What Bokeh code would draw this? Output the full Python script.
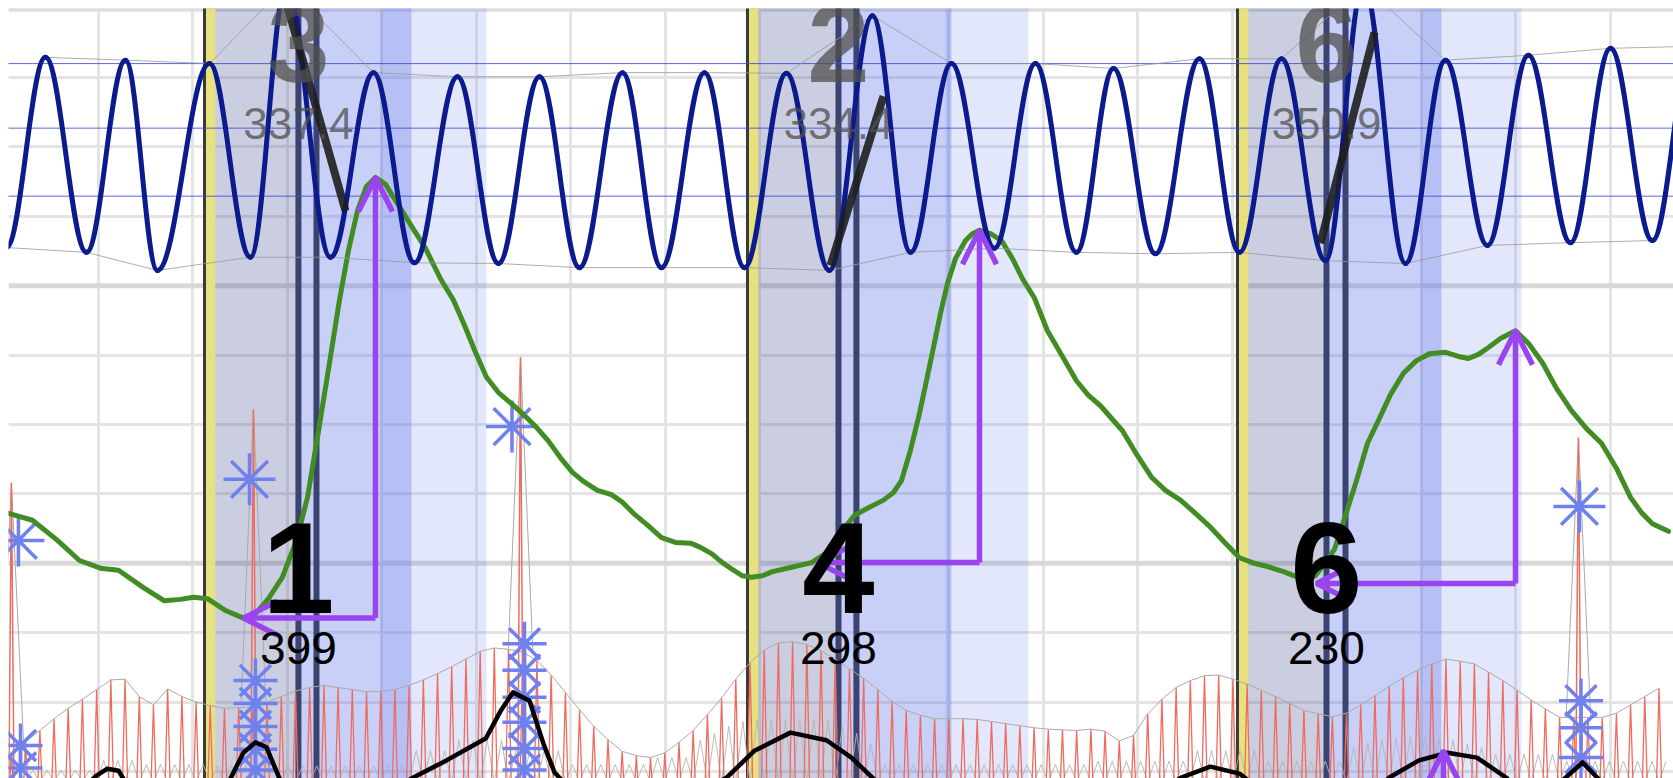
from bokeh.plotting import figure
from bokeh.models import Range1d, FixedTicker, Span, Arrow, OpenHead, ColumnDataSource, LabelSet
from bokeh.core.properties import value
from bokeh.embed import file_html
from bokeh.resources import INLINE

# ---------------- data (time in s, signal in grid units) ----------------
event_onset = [2.122, 7.868, 13.053]
marker_a = [3.116, 8.831, 13.995]
marker_b = [3.307, 9.021, 14.196]
window_end = [4.312, 10.026, 15.212]
late_start = [3.984, 9.963, 14.989]
late_end = [5.106, 10.841, 16.058]

event_number = ["3", "2", "6"]
event_value = ["337.4", "334.4", "350.9"]
response_number = ["1", "4", "6"]
response_value = ["399", "298", "230"]

# blue oscillation: extrema
wave_peak_t = [0.439, 1.286, 2.175, 2.989, 3.910, 4.799, 5.667, 6.545, 7.413, 8.280, 9.190,
               10.026, 10.915, 11.741, 12.651, 13.519, 14.386, 15.254, 16.132, 17.000, 17.868]
wave_peak_v = [10.29, 10.25, 10.20, 11.33, 10.07, 10.01, 10.01, 10.07, 10.07, 10.06, 10.89,
               10.20, 10.20, 10.13, 10.27, 10.27, 11.33, 10.25, 10.32, 10.42, 10.45]
wave_trough_t = [0.026, 0.873, 1.624, 2.608, 3.455, 4.344, 5.233, 6.090, 6.958, 7.836, 8.735,
                 9.593, 10.481, 11.349, 12.185, 13.074, 13.984, 14.831, 15.698, 16.577, 17.444]
wave_trough_v = [7.55, 7.48, 7.22, 7.41, 7.41, 7.33, 7.32, 7.26, 7.26, 7.26, 7.22,
                 7.48, 7.54, 7.48, 7.46, 7.48, 7.36, 7.32, 7.58, 7.62, 7.65]
wave_levels = [10.20, 9.27, 8.29]

# green trace
green_t = [0.048, 0.302, 0.566, 0.799, 1.021, 1.212, 1.476, 1.698, 1.868, 2.005,
           2.153, 2.344, 2.534, 2.672, 2.799, 2.947, 3.095, 3.212, 3.329, 3.444,
           3.550, 3.646, 3.741, 3.836, 3.931, 4.037, 4.143, 4.302, 4.460, 4.619,
           4.757, 4.873, 4.989, 5.106, 5.233, 5.370, 5.508, 5.635, 5.762, 5.889,
           6.016, 6.132, 6.280, 6.429, 6.545, 6.661, 6.810, 6.958, 7.106, 7.265,
           7.370, 7.487, 7.603, 7.720, 7.815, 7.910, 8.026, 8.132, 8.323, 8.545,
           8.693, 8.852, 9.000, 9.148, 9.307, 9.413, 9.497, 9.593, 9.688, 9.762,
           9.836, 9.910, 9.984, 10.069, 10.175, 10.249, 10.323, 10.439, 10.556, 10.672,
           10.778, 10.905, 11.042, 11.201, 11.349, 11.476, 11.603, 11.836, 11.995, 12.143,
           12.291, 12.450, 12.608, 12.767, 12.926, 13.074, 13.233, 13.381, 13.540, 13.688,
           13.772, 13.878, 13.984, 14.079, 14.196, 14.312, 14.429, 14.545, 14.672, 14.810,
           14.947, 15.085, 15.254, 15.392, 15.497, 15.603, 15.709, 15.836, 15.995, 16.132,
           16.280, 16.429, 16.587, 16.746, 16.905, 17.063, 17.212, 17.328, 17.444, 17.614]
green_v = [3.72, 3.62, 3.33, 3.04, 2.93, 2.90, 2.65, 2.46, 2.48, 2.51,
           2.49, 2.32, 2.21, 2.29, 2.49, 2.80, 3.33, 3.95, 4.91, 5.88,
           6.79, 7.51, 8.08, 8.43, 8.56, 8.46, 8.23, 7.88, 7.54, 7.10,
           6.79, 6.43, 6.04, 5.68, 5.46, 5.30, 5.13, 4.96, 4.76, 4.52,
           4.31, 4.18, 4.05, 3.99, 3.88, 3.72, 3.55, 3.37, 3.30, 3.29,
           3.23, 3.14, 3.01, 2.90, 2.82, 2.80, 2.82, 2.88, 2.94, 3.01,
           3.14, 3.44, 3.69, 3.80, 3.91, 4.02, 4.19, 4.63, 5.16, 5.63,
           6.11, 6.60, 7.03, 7.39, 7.65, 7.75, 7.80, 7.75, 7.65, 7.39,
           7.10, 6.82, 6.35, 5.98, 5.63, 5.42, 5.27, 4.91, 4.55, 4.24,
           4.05, 3.91, 3.72, 3.52, 3.29, 3.08, 3.00, 2.95, 2.88, 2.80,
           2.75, 2.82, 3.01, 3.20, 3.69, 4.19, 4.73, 5.06, 5.43, 5.74,
           5.92, 6.02, 6.04, 5.98, 5.95, 6.01, 6.11, 6.24, 6.35, 6.17,
           5.89, 5.52, 5.20, 4.94, 4.73, 4.37, 3.95, 3.73, 3.57, 3.46]

# slope indicators
slope_t0 = [2.968, 8.746, 13.931]
slope_v0 = [11.18, 7.29, 7.61]
slope_t1 = [3.614, 9.307, 14.503]
slope_v1 = [8.08, 9.73, 10.65]

# rise arrows
rise_t = [3.931, 10.323, 15.995]
rise_top = [8.56, 7.80, 6.35]
rise_base = [2.21, 3.01, 2.71]
dip_t = [2.534, 8.608, 13.889]

# red pulse train: peak heights, one every 0.1503 s from 0.079 s
spike_top = [0.28, 0.43, 0.59, 0.76, 0.91, 1.04, 1.18, 1.32, 1.33, 1.08,
             0.96, 1.19, 1.08, 1.00, 0.95, 0.91, 0.92, 0.93, 1.00, 1.08,
             1.16, 1.21, 1.24, 1.21, 1.18, 1.15, 1.15, 1.18, 1.24, 1.32,
             1.41, 1.51, 1.62, 1.73, 1.78, 1.76, 1.72, 1.60, 1.39, 1.14,
             0.89, 0.65, 0.46, 0.29, 0.23, 0.20, 0.27, 0.42, 0.59, 0.82,
             1.06, 1.33, 1.57, 1.75, 1.85, 1.87, 1.83, 1.74, 1.62, 1.48,
             1.34, 1.18, 1.01, 0.88, 0.81, 0.76, 0.76, 0.76, 0.75, 0.72,
             0.69, 0.66, 0.63, 0.61, 0.60, 0.59, 0.61, 0.58, 0.44, 0.52,
             0.83, 1.04, 1.21, 1.31, 1.38, 1.39, 1.33, 1.26, 1.17, 1.08,
             0.98, 0.88, 0.83, 0.79, 0.84, 0.96, 1.09, 1.23, 1.35, 1.46,
             1.55, 1.62, 1.59, 1.55, 1.43, 1.31, 1.17, 1.03, 0.90, 0.78,
             0.78, 0.78, 0.78, 0.84, 0.96, 1.08, 1.20]
# small grey ripple between pulses (height after each pulse)
ripple_top = [0.02, 0.02, 0.02, 0.02, 0.02, 0.02, 0.16, 0.16, 0.16, 0.10,
              0.10, 0.10, 0.10, 0.10, 0.08, 0.08, 0.08, 0.08, 0.08, 0.08,
              0.08, 0.08, 0.08, 0.08, 0.08, 0.08, 0.08, 0.08, 0.30, 0.30,
              0.30, 0.45, 0.45, 0.45, 0.45, 0.30, 0.30, 0.30, 0.30, 0.10,
              0.10, 0.10, 0.10, 0.10, 0.10, 0.20, 0.20, 0.20, 0.45, 0.55,
              0.65, 0.72, 0.75, 0.75, 0.75, 0.75, 0.75, 0.75, 0.65, 0.55,
              0.40, 0.10, 0.10, 0.10, 0.10, 0.10, 0.10, 0.10, 0.10, 0.10,
              0.10, 0.10, 0.10, 0.10, 0.10, 0.10, 0.15, 0.15, 0.15, 0.15,
              0.15, 0.15, 0.15, 0.30, 0.30, 0.30, 0.30, 0.30, 0.15, 0.15,
              0.15, 0.15, 0.15, 0.15, 0.35, 0.40, 0.45, 0.48, 0.50, 0.50,
              0.48, 0.45, 0.40, 0.35, 0.25, 0.25, 0.25, 0.25, 0.25, 0.15,
              0.15, 0.15, 0.15, 0.15, 0.15, 0.15, 0.15]
spike_start, spike_step = 0.079, 0.1503

# artifacts
artifact_t = [0.079, 2.640, 5.466, 16.661]
artifact_top = [4.16, 5.22, 5.97, 4.81]
artifact_base = [0.37, 1.02, 1.74, 0.78]
mark_t = [0.153, 2.598, 5.376, 16.672]
mark_v = [3.33, 4.21, 4.97, 3.82]
stack_t = [0.175, 0.175, 2.661, 2.661, 2.661, 2.661, 2.661,
           5.508, 5.508, 5.508, 5.508, 5.508, 5.508, 16.688, 16.688, 16.688]
stack_v = [0.375, 0.05, 1.31, 0.98, 0.65, 0.32, 0.02,
           1.84, 1.46, 1.07, 0.71, 0.33, 0.02, 1.02, 0.63, 0.20]

# black lower trace
low_t = [0.048, 0.810, 0.979, 1.095, 1.212, 1.339, 2.079, 2.386, 2.534, 2.661,
         2.778, 2.915, 3.138, 3.984, 4.312, 4.683, 5.101, 5.259, 5.386, 5.561,
         5.709, 5.825, 6.101, 7.159, 7.646, 7.942, 8.323, 8.704, 8.968, 9.190,
         9.487, 12.132, 12.450, 12.767, 13.074, 13.296, 14.423, 14.656, 14.974, 15.275,
         15.587, 15.899, 16.116, 16.434, 16.704, 16.862, 17.069, 17.614]
low_v = [-0.42, -0.27, -0.06, 0.04, 0.01, -0.27, -0.56, -0.13, 0.27, 0.42,
         0.35, -0.10, -0.42, -0.42, -0.10, 0.16, 0.48, 0.88, 1.14, 1.02,
         0.40, -0.01, -0.42, -0.42, -0.09, 0.30, 0.56, 0.45, 0.20, -0.09,
         -0.42, -0.42, -0.09, 0.07, -0.03, -0.27, -0.42, -0.09, 0.16, 0.27,
         0.20, -0.09, -0.42, -0.20, 0.13, -0.09, -0.42, -0.42]
cue_t = [15.233]
cue_v = [0.30]

# ---------------- styles ----------------
PURPLE = "#9a44ef"
NAVY = "#0b1a8c"
GREEN = "#428c24"
RED = "#ef6b5f"
AST = "#6f80ef"
FONT = value("Liberation Sans")
TOP, BOT = 12.0, -1.0

p = figure(width=1673, height=778, x_range=Range1d(0.048, 17.667), y_range=Range1d(-0.101, 10.994),
           output_backend="svg", toolbar_location=None,
           min_border_left=8, min_border_top=8, min_border_right=0, min_border_bottom=0)
p.xaxis.visible = False
p.yaxis.visible = False
p.outline_line_color = None
p.border_fill_color = "white"
p.xgrid.ticker = FixedTicker(ticks=list(range(0, 19)))
p.ygrid.ticker = FixedTicker(ticks=list(range(0, 12)))
for g in (p.xgrid, p.ygrid):
    g.grid_line_color = "#e4e4e4"
    g.grid_line_width = 3
for lvl in (3, 7):
    p.add_layout(Span(location=lvl, dimension="width", line_color="#d8d8d8", line_width=5, level="underlay"))
p.add_layout(Span(location=10.975, dimension="width", line_color="#dedede", line_width=4, level="underlay"))

# shaded windows
p.quad(left=event_onset, right=marker_a, top=TOP, bottom=BOT, fill_color="#3c4b8c", fill_alpha=0.27, line_color=None)
p.quad(left=marker_a, right=window_end, top=TOP, bottom=BOT, fill_color="#6478eb", fill_alpha=0.35, line_color=None)
p.quad(left=late_start, right=late_end, top=TOP, bottom=BOT, fill_color="#6478eb", fill_alpha=0.18, line_color=None)
p.quad(left=event_onset, right=[t + 0.115 for t in event_onset], top=TOP, bottom=BOT,
       fill_color="#e9e27a", fill_alpha=0.95, line_color=None)
p.segment(x0=event_onset, x1=event_onset, y0=BOT, y1=TOP, line_color="#3a3a3a", line_width=3)
p.segment(x0=marker_a, x1=marker_a, y0=BOT, y1=TOP, line_color="#3b4470", line_width=6)
p.segment(x0=marker_b, x1=marker_b, y0=BOT, y1=TOP, line_color="#3b4470", line_width=6)

# reference levels of the oscillation
p.segment(x0=-1, x1=19, y0=wave_levels, y1=wave_levels, line_color="#3a4bd6", line_width=1, line_alpha=0.85)

# red pulse train (narrow peaks) with grey ripple and envelope
spike_t = [round(spike_start + spike_step * k, 3) for k in range(len(spike_top))]
rip_x, rip_y = [], []
for t, h in zip(spike_t, ripple_top):
    rip_x += [t, t + spike_step / 2]
    rip_y += [-0.15, h]
p.line(rip_x, rip_y, line_color="#b4b4b4", line_width=0.9)
p.multi_line(xs=[[t - 0.035, t, t + 0.035] for t in spike_t],
             ys=[[-0.6, h, -0.6] for h in spike_top],
             line_color=RED, line_width=1.3, line_join="miter")
p.line(spike_t, spike_top, line_color="#aaaaaa", line_width=1)
p.multi_line(xs=[[t - 0.13, t, t + 0.13] for t in artifact_t],
             ys=[[b, h, b] for h, b in zip(artifact_top, artifact_base)],
             line_color="#aaaaaa", line_width=1)
p.multi_line(xs=[[t - 0.03, t, t + 0.03] for t in artifact_t],
             ys=[[-0.6, h, -0.6] for h in artifact_top],
             line_color=RED, line_width=1.5)
p.scatter(stack_t, stack_v, marker="asterisk", size=44, line_color=AST, line_width=3.5)
p.scatter(mark_t, mark_v, marker="asterisk", size=52, line_color=AST, line_width=3.5)

# black lower trace
p.line(low_t, low_v, line_color="black", line_width=4.5, line_join="round")

# green trace
p.line(green_t, green_v, line_color=GREEN, line_width=5, line_join="round", line_cap="round")

# blue oscillation envelopes + smooth wave through extrema
p.line(wave_peak_t, wave_peak_v, line_color="#999999", line_width=1, line_alpha=0.8)
p.line(wave_trough_t, wave_trough_v, line_color="#999999", line_width=1, line_alpha=0.8)
ext = sorted(zip(wave_peak_t + wave_trough_t, wave_peak_v + wave_trough_v))
ex = [e[0] for e in ext]
ey = [e[1] for e in ext]
x0, x1, y0, y1 = ex[:-1], ex[1:], ey[:-1], ey[1:]
cx0 = [a + 0.37 * (b - a) for a, b in zip(x0, x1)]
cx1 = [b - 0.37 * (b - a) for a, b in zip(x0, x1)]
p.bezier(x0=x0, y0=y0, x1=x1, y1=y1, cx0=cx0, cy0=y0, cx1=cx1, cy1=y1,
         line_color=NAVY, line_width=5, line_cap="round")

# slope indicators
p.segment(x0=slope_t0, y0=slope_v0, x1=slope_t1, y1=slope_v1, line_color="#1e1e1e", line_width=8, line_alpha=0.9)

# grey event labels
src_ev = ColumnDataSource(dict(x=marker_a, y=[9.93] * 3, text=event_number))
src_evv = ColumnDataSource(dict(x=marker_a, y=[9.12] * 3, text=event_value))
p.add_layout(LabelSet(x="x", y="y", text="text", source=src_ev, text_font=FONT, text_font_size="112px",
                      text_font_style="bold", text_align="center", text_baseline="alphabetic",
                      text_color="#505050", text_alpha=0.75))
p.add_layout(LabelSet(x="x", y="y", text="text", source=src_evv, text_font=FONT, text_font_size="44px",
                      text_align="center", text_baseline="alphabetic", text_color="#505050", text_alpha=0.75))

# purple arrows
for t, top, base, d in zip(rise_t, rise_top, rise_base, dip_t):
    p.add_layout(Arrow(end=OpenHead(line_color=PURPLE, line_width=5.5, size=34),
                       x_start=t, y_start=base, x_end=t, y_end=top, line_color=PURPLE, line_width=5.5))
    p.add_layout(Arrow(end=OpenHead(line_color=PURPLE, line_width=5.5, size=34),
                       x_start=t, y_start=base, x_end=d, y_end=base, line_color=PURPLE, line_width=5.5))
for t, v in zip(cue_t, cue_v):
    p.add_layout(Arrow(end=OpenHead(line_color=PURPLE, line_width=5.5, size=34),
                       x_start=t, y_start=-0.6, x_end=t, y_end=v, line_color=PURPLE, line_width=5.5))

# black response labels
src_big = ColumnDataSource(dict(x=marker_a, y=[2.29] * 3, text=response_number))
src_small = ColumnDataSource(dict(x=marker_a, y=[1.556] * 3, text=response_value))
p.add_layout(LabelSet(x="x", y="y", text="text", source=src_big, text_font=FONT, text_font_size="130px",
                      text_font_style="bold", text_align="center", text_baseline="alphabetic",
                      text_color="black"))
p.add_layout(LabelSet(x="x", y="y", text="text", source=src_small, text_font=FONT, text_font_size="46px",
                      text_align="center", text_baseline="alphabetic", text_color="black"))

open("out.html", "w").write(file_html(p, INLINE))
